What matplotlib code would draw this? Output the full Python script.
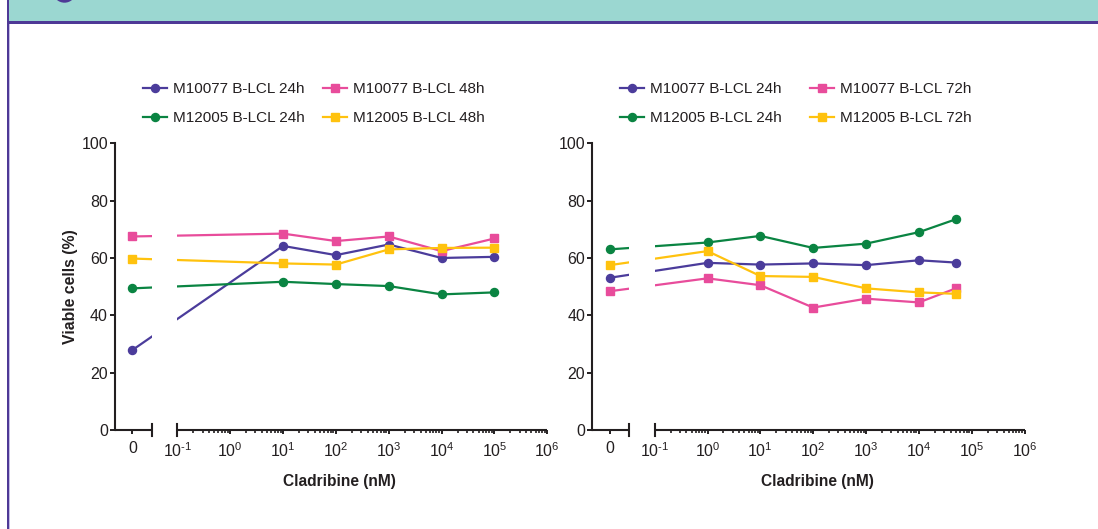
import numpy as np
import matplotlib
matplotlib.use("Agg")
import matplotlib.pyplot as plt
from matplotlib.legend import Legend
from matplotlib.patches import Rectangle, Ellipse

plt.rcParams["font.family"] = ["Liberation Sans", "DejaVu Sans"]
plt.rcParams["mathtext.fontset"] = "custom"
plt.rcParams["mathtext.rm"] = "Liberation Sans"
plt.rcParams["mathtext.it"] = "Liberation Sans:italic"
plt.rcParams["mathtext.bf"] = "Liberation Sans:bold"

# ---- data ----
conc_48h = [0, 10, 100, 1000, 10000, 100000]
m10077_24h_a = [27.9, 64.2, 61.0, 64.7, 60.0, 60.4]
m10077_48h = [67.5, 68.5, 65.9, 67.5, 62.4, 66.8]
m12005_24h_a = [49.4, 51.7, 50.9, 50.2, 47.3, 48.0]
m12005_48h = [59.8, 58.1, 57.7, 63.0, 63.5, 63.6]

conc_72h = [0, 1, 10, 100, 1000, 10000, 50000]
m10077_24h_b = [53.1, 58.3, 57.7, 58.1, 57.5, 59.2, 58.4]
m10077_72h = [48.4, 52.9, 50.5, 42.7, 45.8, 44.5, 49.4]
m12005_24h_b = [63.0, 65.4, 67.7, 63.5, 65.0, 69.0, 73.5]
m12005_72h = [57.5, 62.4, 53.7, 53.4, 49.4, 48.0, 47.5]

decades = [-1, 0, 1, 2, 3, 4, 5, 6]
yticks = [0, 20, 40, 60, 80, 100]

PURPLE = "#4b3c9b"
PINK = "#e84c9b"
GREEN = "#0a8442"
YELLOW = "#ffc20e"
INK = "#231f20"

ZERO_POS = -1.85   # where the "0" concentration sits on the broken axis
BREAK_END = -1.48  # end of the short "0" segment
X_LEFT = -2.18


def xpos(c):
    return ZERO_POS if c == 0 else np.log10(c)


def decade_label(d):
    if d < 0:
        return r"$\mathregular{10^{\text{-}%d}}$" % (-d)
    return r"$\mathregular{10^{%d}}$" % d


def draw_panel(ax, conc, series, legend_cols, col_x):
    x = [xpos(c) for c in conc]
    for vals, color, marker, ms, label in series:
        ax.plot(x, vals, color=color, lw=1.6, marker=marker, ms=ms,
                mec=color, mfc=color, label=label, zorder=2, clip_on=False)

    # hide the lines inside the axis break
    ax.add_patch(Rectangle((BREAK_END, 0.6), -1 - BREAK_END, 105,
                           facecolor="white", edgecolor="none", zorder=3,
                           clip_on=False))

    ax.set_xlim(X_LEFT, 6)
    ax.set_ylim(0, 100)
    for s in ("top", "right", "bottom"):
        ax.spines[s].set_visible(False)
    ax.spines["left"].set_linewidth(1.5)
    ax.spines["left"].set_color(INK)

    # broken x axis
    ax.plot([X_LEFT, BREAK_END], [0, 0], color=INK, lw=1.5, clip_on=False,
            zorder=4, solid_capstyle="butt")
    ax.plot([-1, 6], [0, 0], color=INK, lw=1.5, clip_on=False, zorder=4,
            solid_capstyle="butt")
    for b in (BREAK_END, -1):
        ax.axvline(b, ymin=-0.021, ymax=0.021, color=INK, lw=1.5,
                   clip_on=False, zorder=4)

    ax.set_xticks([ZERO_POS] + decades)
    ax.set_xticklabels(["0"] + [decade_label(d) for d in decades])
    minors = [d + np.log10(k) for d in decades[:-1] for k in range(2, 10)]
    ax.set_xticks(minors, minor=True)
    ax.set_yticks(yticks)
    ax.tick_params(axis="both", which="major", direction="out", length=3.2,
                   width=1.4, color=INK, labelcolor=INK, labelsize=11.5)
    ax.tick_params(axis="x", which="major", pad=5)
    ax.tick_params(axis="x", which="minor", direction="out", length=1.8,
                   width=1.2, color=INK)
    ax.tick_params(axis="y", which="major", length=3.6, pad=1.5)

    ax.text(0.52, -0.181, "Cladribine (nM)", transform=ax.transAxes,
            ha="center", va="center", fontsize=11.2, fontweight="bold",
            color=INK)

    handles, labels = ax.get_legend_handles_labels()
    for col, xs in zip(legend_cols, col_x):
        leg = Legend(ax, [handles[i] for i in col], [labels[i] for i in col],
                     loc="center left",
                     bbox_to_anchor=(xs / 1098, 1 - 103.7 / 529),
                     bbox_transform=fig.transFigure, frameon=False,
                     fontsize=11, handlelength=1.57, handletextpad=0.4,
                     labelspacing=0.98, borderpad=0, borderaxespad=0,
                     labelcolor=INK)
        ax.add_artist(leg)


fig = plt.figure(figsize=(10.98, 5.29), dpi=100)

# page decoration: header band, rule and left border
fig.patches.append(Rectangle((9 / 1098, 1 - 21 / 529), 1, 21 / 529,
                             transform=fig.transFigure, facecolor="#9bd7d1",
                             edgecolor="none", zorder=0))
fig.patches.append(Rectangle((7 / 1098, 1 - 24 / 529), 1, 3 / 529,
                             transform=fig.transFigure, facecolor="#4e3996",
                             edgecolor="none", zorder=1))
fig.patches.append(Rectangle((6.7 / 1098, 0), 2.4 / 1098, 1,
                             transform=fig.transFigure, facecolor="#4e3996",
                             edgecolor="none", zorder=1))
fig.patches.append(Rectangle((9.1 / 1098, 0), 1.2 / 1098, 1 - 24 / 529,
                             transform=fig.transFigure, facecolor="#c4bde6",
                             edgecolor="none", zorder=1))
fig.patches.append(Ellipse((64.5 / 1098, 1 + 9.1 / 529), 23.6 / 1098, 23.6 / 529,
                           transform=fig.transFigure, facecolor="#4e3996",
                           edgecolor="none", zorder=2))

ax_h = 286.7 / 529
ax_b = (529 - 430) / 529
ax_w = 432.3 / 1098
ax1 = fig.add_axes([115 / 1098, ax_b, ax_w, ax_h])
ax2 = fig.add_axes([592.3 / 1098, ax_b, ax_w, ax_h])

draw_panel(ax1, conc_48h, [
    (m10077_24h_a, PURPLE, "o", 5.8, "M10077 B-LCL 24h"),
    (m12005_24h_a, GREEN, "o", 5.8, "M12005 B-LCL 24h"),
    (m10077_48h, PINK, "s", 6.2, "M10077 B-LCL 48h"),
    (m12005_48h, YELLOW, "s", 6.2, "M12005 B-LCL 48h"),
], [[0, 1], [2, 3]], [143, 323])

draw_panel(ax2, conc_72h, [
    (m10077_24h_b, PURPLE, "o", 5.8, "M10077 B-LCL 24h"),
    (m12005_24h_b, GREEN, "o", 5.8, "M12005 B-LCL 24h"),
    (m10077_72h, PINK, "s", 6.2, "M10077 B-LCL 72h"),
    (m12005_72h, YELLOW, "s", 6.2, "M12005 B-LCL 72h"),
], [[0, 1], [2, 3]], [620, 810])

ax1.text(-0.104, 0.5, "Viable cells (%)", transform=ax1.transAxes,
         rotation=90, ha="center", va="center", fontsize=11.4,
         fontweight="bold", color=INK)

fig.savefig("out.png", dpi=100)
